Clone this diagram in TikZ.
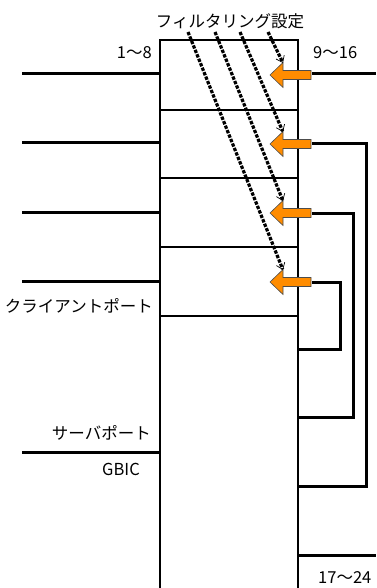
\documentclass[tikz,border=0pt]{standalone}
\usepackage{fontspec}
\setmainfont{Noto Sans CJK JP}
\usetikzlibrary{arrows.meta}
\begin{document}
\begin{tikzpicture}[x=1pt,y=-1pt,
  thin line/.style={line width=1.6pt},
  port/.style={line width=3pt},
  farrow/.style={fill=orange!90!yellow, draw=black!70, line width=0.6pt},
  dline/.style={line width=3.2pt, dash pattern=on 3.4pt off 1.4pt, -{Straight Barb[length=6pt,width=9pt,line width=0.7pt]}},
  lbl/.style={font=\fontsize{16.5}{16.5}\selectfont, inner sep=0pt}]
\useasboundingbox (0,0) rectangle (376,588);
% box
\draw[thin line] (160,600) -- (160,40) -- (298,40) -- (298,600);
\foreach \y in {110,178,247,316} \draw[thin line] (160,\y) -- (298,\y);
% left ports
\foreach \y/\n in {74/l1,143/l2,212/l3,281/l4,452/l5} {
  \coordinate (\n a) at (22,\y); \coordinate (\n b) at (160,\y);
  \draw[port] (\n a) -- (\n b);
}
% right wiring
\coordinate (r1) at (312,74); \coordinate (r1e) at (376,74);
\draw[port] (r1) -- (r1e);
\coordinate (r2) at (312,144);
\draw[port] (r2) -- (366,144) -- (366,486) -- (298,486);
\coordinate (r3) at (312,213);
\draw[port] (r3) -- (353,213) -- (353,417) -- (298,417);
\coordinate (r4) at (312,282);
\draw[port] (r4) -- (340,282) -- (340,349) -- (298,349);
\draw[port] (298,555) -- (376,555);
% orange arrows
\foreach \y/\n in {75/a1,144/a2,213/a3,282/a4} {
  \draw[farrow] (311,\y-4.5) -- (283,\y-4.5) -- (283,\y-12.5) -- (270,\y) -- (283,\y+12.5) -- (283,\y+4.5) -- (311,\y+4.5) -- cycle;
  \coordinate (\n) at (283,\y-12);
}
% title and dashed lines
\node[lbl] (title) at (230,21) {フィルタリング設定};
\coordinate (s1) at (188,32); \coordinate (s2) at (215,32);
\coordinate (s3) at (240,32); \coordinate (s4) at (268,32);
\draw[dline] (s4) -- (a1);
\draw[dline] (s3) -- (a2);
\draw[dline] (s2) -- (a3);
\draw[dline] (s1) -- (a4);
% labels
\node[lbl, anchor=east] (n18) at (152,53) {1～8};
\node[lbl, anchor=west] (n916) at (313,53) {9～16};
\node[lbl, anchor=west] (n1724) at (318,578) {17～24};
\node[lbl, anchor=east] (cp) at (153,306) {クライアントポート};
\node[lbl, anchor=east] (sp) at (151,433) {サーバポート};
\node[lbl, anchor=east] (gb) at (140,469) {GBIC};
\end{tikzpicture}
\end{document}
